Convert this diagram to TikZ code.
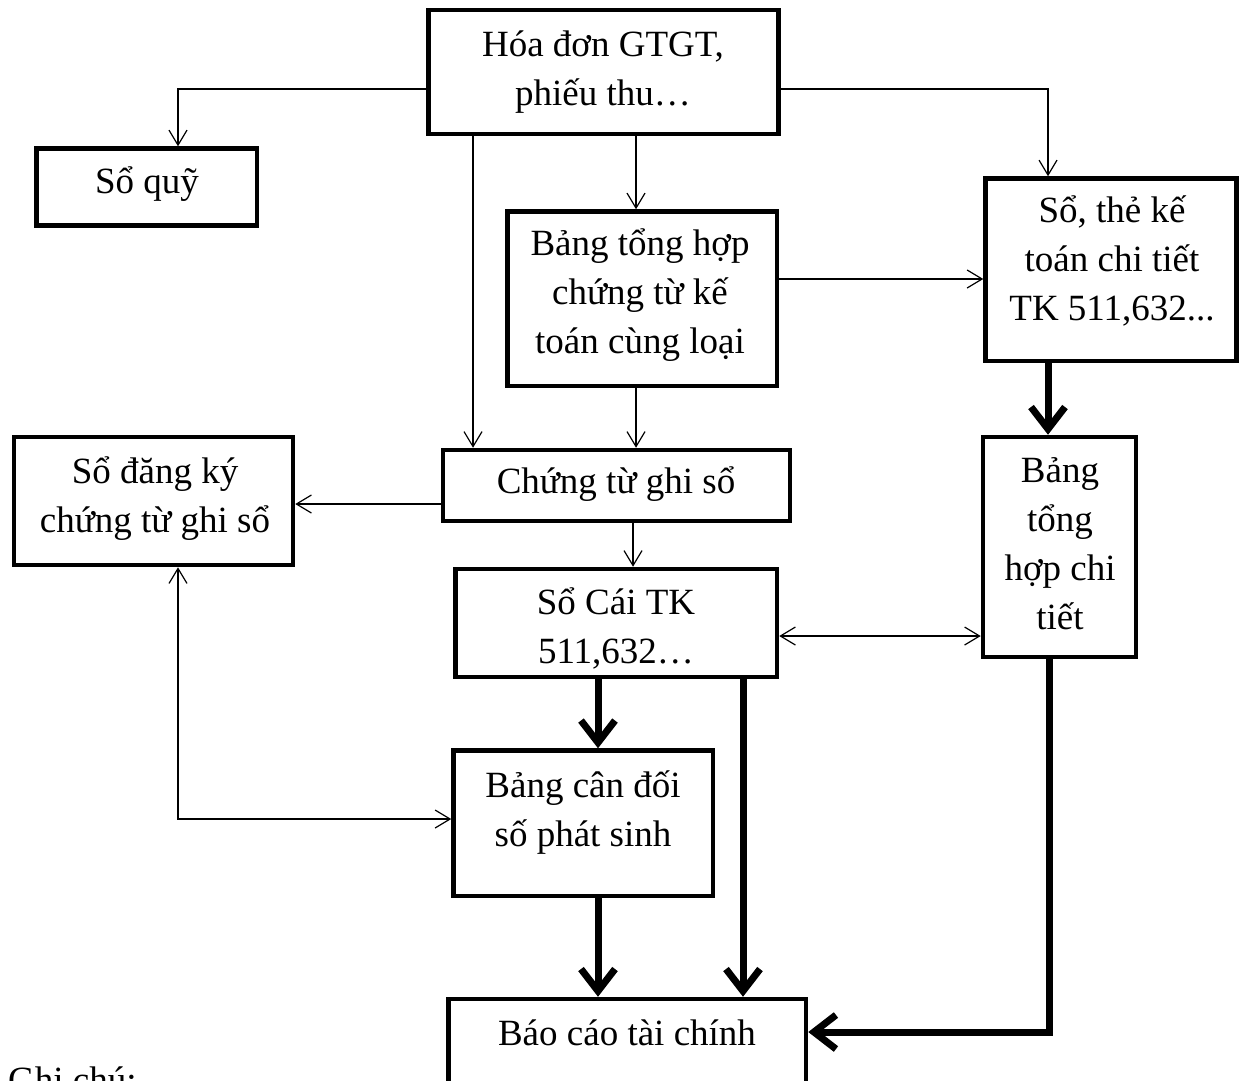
\documentclass[tikz,border=0pt]{standalone}
\usepackage{fontspec}
\setmainfont{Liberation Serif}
\usetikzlibrary{arrows.meta}
\newcommand{\zs}{\rule[-11pt]{0pt}{47pt}}
\begin{document}
\begin{tikzpicture}[x=1pt,y=-1pt,
  box/.style={draw, rectangle, line width=4.5pt, inner sep=0pt},
  txt/.style={align=center, inner sep=0pt, anchor=north, font=\fontsize{37}{49}\selectfont},
  thinarr/.style={line width=1.2pt, -{Straight Barb[length=15pt,width=18pt]}},
  thinbi/.style={line width=1.2pt, {Straight Barb[length=15pt,width=18pt]}-{Straight Barb[length=15pt,width=18pt]}},
  thickarr/.style={line width=7pt, -{Straight Barb[length=22pt,width=34pt]}}]
\useasboundingbox (0,0) rectangle (1246,1080);
\fill[white] (0,0) rectangle (1246,1080);
% boxes
\node[box, minimum width=350pt, minimum height=124pt] (hd) at (603.5,72) {};
\node[box, minimum width=220.5pt, minimum height=77pt] (sq) at (146.75,187) {};
\node[box, minimum width=251pt, minimum height=182.5pt] (st) at (1111,269.75) {};
\node[box, minimum width=269.5pt, minimum height=174.5pt] (bth) at (642.25,298.75) {};
\node[box, minimum width=347pt, minimum height=71pt] (ct) at (616.5,485.5) {};
\node[box, minimum width=279pt, minimum height=128pt] (sdk) at (153.5,501) {};
\node[box, minimum width=153pt, minimum height=220pt] (bct) at (1059.5,547) {};
\node[box, minimum width=321.5pt, minimum height=108pt] (sc) at (616.25,623) {};
\node[box, minimum width=259.5pt, minimum height=145.5pt] (bcd) at (583.25,823.25) {};
\node[box, minimum width=357.5pt, minimum height=121pt] (bc) at (627.25,1059.5) {};
% texts
\node[txt] (t1) at (603,20) {\zs Hóa đơn GTGT,\\\zs phiếu thu…};
\node[txt] (t2) at (147,157) {\zs Sổ quỹ};
\node[txt] (t3) at (1112,186) {\zs Sổ, thẻ kế\\\zs toán chi tiết\\\zs TK 511,632...};
\node[txt] (t4) at (640,219) {\zs Bảng tổng hợp\\\zs chứng từ kế\\\zs toán cùng loại};
\node[txt] (t5) at (616,457) {\zs Chứng từ ghi sổ};
\node[txt] (t6) at (155,447) {\zs Sổ đăng ký\\\zs chứng từ ghi sổ};
\node[txt] (t7) at (1060,446) {\zs Bảng\\\zs tổng\\\zs hợp chi\\\zs tiết};
\node[txt] (t8) at (616,578) {\zs Sổ Cái TK\\\zs 511,632…};
\node[txt] (t9) at (583,761) {\zs Bảng cân đối\\\zs số phát sinh};
\node[txt] (t10) at (627,1009) {\zs Báo cáo tài chính};
\node[txt, anchor=base west] (gc) at (8,1092) {Ghi chú:};
% thin connectors
\draw[thinarr] (hd.west |- 0,89) -| (178,0 |- sq.north);
\draw[thinarr] (hd.east |- 0,89) -| (1048,0 |- st.north);
\draw[thinarr] (636,0 |- hd.south) -- (636,0 |- bth.north);
\draw[thinarr] (473,0 |- hd.south) -- (473,0 |- ct.north);
\draw[thinarr] (636,0 |- bth.south) -- (636,0 |- ct.north);
\draw[thinarr] (bth.east |- 0,279) -- (st.west |- 0,279);
\draw[thinarr] (ct.west |- 0,504) -- (sdk.east |- 0,504);
\draw[thinarr] (633,0 |- ct.south) -- (633,0 |- sc.north);
\draw[thinbi] (sc.east |- 0,636) -- (bct.west |- 0,636);
\draw[thinbi] (178,0 |- sdk.south) |- (bcd.west |- 0,819);
% thick connectors
\draw[thickarr] (1048,0 |- st.south) -- (1048,0 |- bct.north);
\draw[thickarr] (598,0 |- sc.south) -- (598,0 |- bcd.north);
\draw[thickarr] (743,0 |- sc.south) -- (743,0 |- bc.north);
\draw[thickarr] (598,0 |- bcd.south) -- (598,0 |- bc.north);
\draw[thickarr] (1049,0 |- bct.south) |- (bc.east |- 0,1032);
\end{tikzpicture}
\end{document}
